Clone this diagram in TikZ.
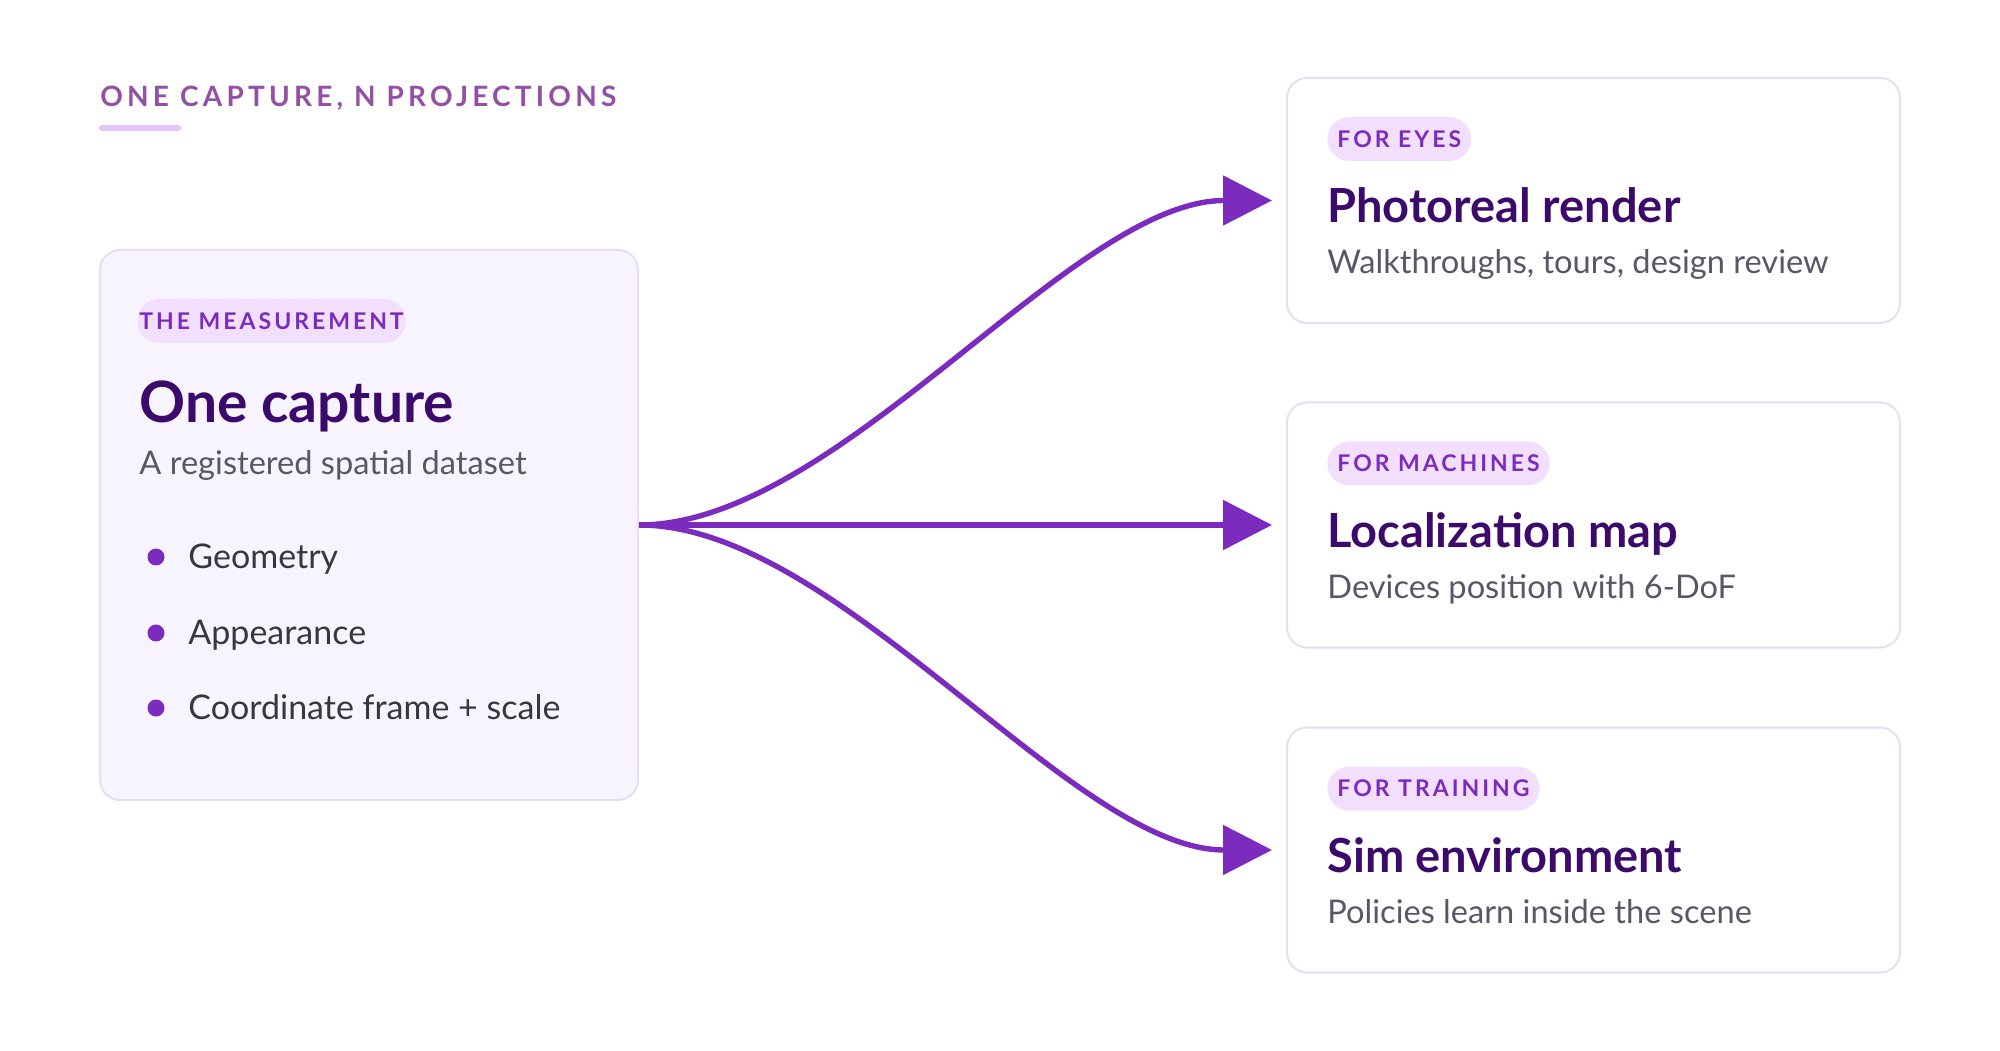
\documentclass[tikz,border=0pt]{standalone}
\usepackage{fontspec}
\setmainfont{Lato}
\newfontfamily\spacedfont[LetterSpace=15]{Lato}
\newfontfamily\tagfont[LetterSpace=13]{Lato}
\usepackage{tikz}
\usetikzlibrary{arrows.meta, positioning, calc}
\definecolor{accent}{HTML}{7B2CBF}
\definecolor{ink}{HTML}{3C0A6B}
\definecolor{tagbg}{HTML}{F1DFFD}
\definecolor{slate}{HTML}{5B5566}
\definecolor{itemtext}{HTML}{3A3542}
\definecolor{cardline}{HTML}{E7DFF1}
\definecolor{panelfill}{HTML}{F8F4FE}
\definecolor{headpurple}{HTML}{9351A6}
\definecolor{underbar}{HTML}{E4C3FB}
\tikzstyle{card} = [rectangle, rounded corners=10pt, draw=cardline, line width=1pt, fill=white, minimum width=306.5pt, minimum height=122.5pt]
\tikzstyle{panel} = [rectangle, rounded corners=10pt, draw=cardline, line width=1pt, fill=panelfill, minimum width=269pt, minimum height=275pt]
\tikzstyle{header} = [inner sep=0pt, anchor=base west, text=headpurple, font=\spacedfont\bfseries\fontsize{14}{16}\selectfont]
\tikzstyle{tag} = [rectangle, rounded corners=11pt, fill=tagbg, text=accent, minimum height=22pt, inner xsep=5pt, inner ysep=0pt, anchor=west, font=\tagfont\bfseries\fontsize{11.5}{12}\selectfont]
\tikzstyle{bigtitle} = [inner sep=0pt, anchor=base west, text=ink, font=\bfseries\fontsize{28.5}{32}\selectfont]
\tikzstyle{cardtitle} = [inner sep=0pt, anchor=base west, text=ink, font=\bfseries\fontsize{23.5}{27}\selectfont]
\tikzstyle{subtext} = [inner sep=0pt, anchor=base west, text=slate, font=\fontsize{16.3}{20}\selectfont]
\tikzstyle{item} = [inner sep=0pt, anchor=base west, text=itemtext, font=\fontsize{17}{20}\selectfont]
\tikzstyle{dot} = [circle, fill=accent, minimum size=8.5pt, inner sep=0pt]
\tikzstyle{flow} = [line width=2.7pt, draw=accent, -{Triangle[length=24.5pt, width=24.5pt]}]
\begin{document}
\begin{tikzpicture}[x=0.5pt, y=0.5pt]
    \useasboundingbox [fill=white] (0,0) rectangle (2000,1050);
    % heading
    \node (head) [header] at (100,943) {ONE CAPTURE, N PROJECTIONS};
    \coordinate (barl) at (102,922);
    \coordinate (barr) at (178,922);
    \draw [underbar, line width=3pt, line cap=round] (barl) -- (barr);

    % the measurement
    \node (src) [panel] at (369,525) {};
    \node (srctag) [tag, inner xsep=1pt] at ($(src.north west)+(38,-72)$) {THE MEASUREMENT};
    \node (srctitle) [bigtitle] at ($(src.north west)+(40,-174)$) {One capture};
    \node (srcsub) [subtext] at ($(src.north west)+(40,-226)$) {A registered spatial dataset};
    \node (d1) [dot] at ($(src.north west)+(57,-308)$) {};
    \node (d2) [dot] at ($(src.north west)+(57,-384)$) {};
    \node (d3) [dot] at ($(src.north west)+(57,-459)$) {};
    \node (i1) [item] at ($(src.north west)+(89,-320)$) {Geometry};
    \node (i2) [item] at ($(src.north west)+(89,-395)$) {Appearance};
    \node (i3) [item] at ($(src.north west)+(89,-470)$) {Coordinate frame + scale};

    % projections
    \node (r1) [card] at (1593.5,849.5) {};
    \node (r2) [card] at (1593.5,525) {};
    \node (r3) [card] at (1593.5,200) {};

    \node (tag1) [tag] at ($(r1.north west)+(41,-62)$) {FOR EYES};
    \node (title1) [cardtitle] at ($(r1.north west)+(41,-146)$) {Photoreal render};
    \node (sub1) [subtext] at ($(r1.north west)+(41,-197)$) {Walkthroughs, tours, design review};

    \node (tag2) [tag] at ($(r2.north west)+(41,-62)$) {FOR MACHINES};
    \node (title2) [cardtitle] at ($(r2.north west)+(41,-146)$) {Localization map};
    \node (sub2) [subtext] at ($(r2.north west)+(41,-197)$) {Devices position with 6-DoF};

    \node (tag3) [tag] at ($(r3.north west)+(41,-62)$) {FOR TRAINING};
    \node (title3) [cardtitle] at ($(r3.north west)+(41,-146)$) {Sim environment};
    \node (sub3) [subtext] at ($(r3.north west)+(41,-197)$) {Policies learn inside the scene};

    % connectors
    \coordinate (e1) at ($(r1.west)+(-14,0)$);
    \coordinate (e2) at ($(r2.west)+(-14,0)$);
    \coordinate (e3) at ($(r3.west)+(-14,0)$);
    \draw [flow] (src.east) .. controls +(200,0) and +(-200,0) .. (e1);
    \draw [flow] (src.east) -- (e2);
    \draw [flow] (src.east) .. controls +(200,0) and +(-200,0) .. (e3);
\end{tikzpicture}
\end{document}
